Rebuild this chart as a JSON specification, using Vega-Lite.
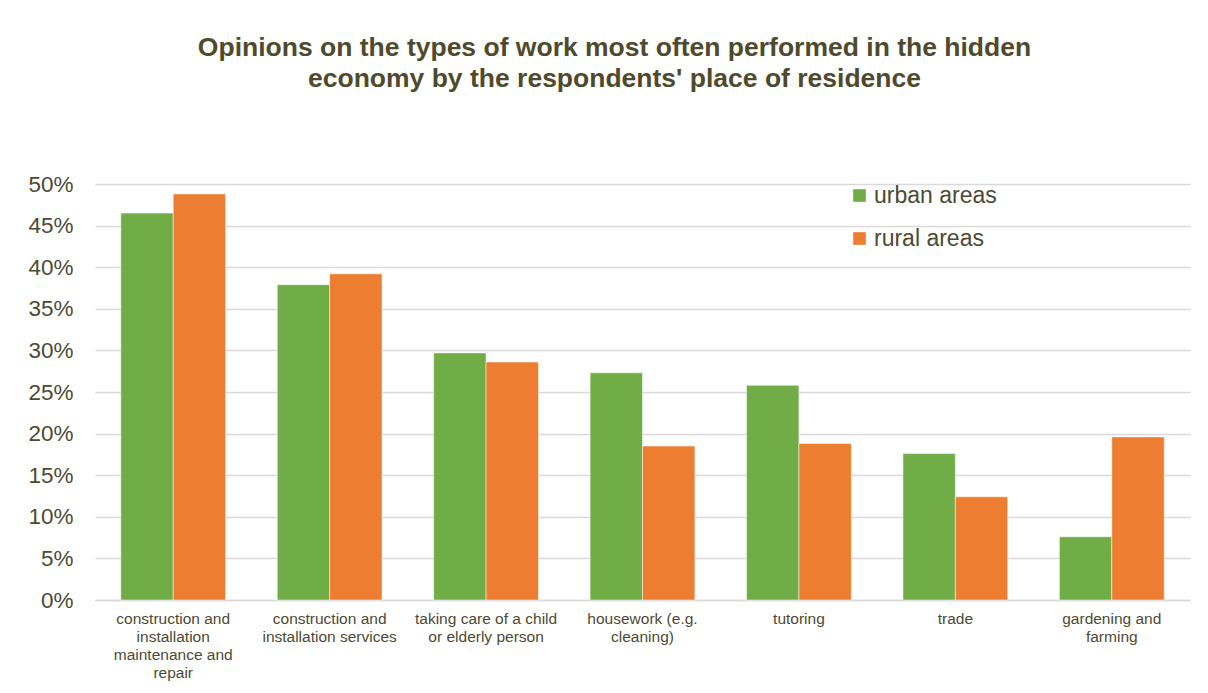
{
  "$schema": "https://vega.github.io/schema/vega-lite/v6.json",
  "width": 1095,
  "height": 416,
  "autosize": {"type": "none"},
  "padding": {"left": 95, "top": 184, "right": 18, "bottom": 93},
  "background": "white",
  "title": {
    "text": ["Opinions on the types of work most often performed in the hidden", "economy by the respondents' place of residence"],
    "font": "Liberation Sans",
    "fontSize": 26.5,
    "fontWeight": "bold",
    "color": "#4f4a2c",
    "lineHeight": 31,
    "anchor": "middle",
    "dx": -28,
    "offset": 81
  },
  "data": {
    "values": [
      {"category": "construction and installation maintenance and repair", "area": "urban areas", "value": 46.5},
      {"category": "construction and installation maintenance and repair", "area": "rural areas", "value": 48.8},
      {"category": "construction and installation services", "area": "urban areas", "value": 37.9},
      {"category": "construction and installation services", "area": "rural areas", "value": 39.2},
      {"category": "taking care of a child or elderly person", "area": "urban areas", "value": 29.7},
      {"category": "taking care of a child or elderly person", "area": "rural areas", "value": 28.6},
      {"category": "housework (e.g. cleaning)", "area": "urban areas", "value": 27.3},
      {"category": "housework (e.g. cleaning)", "area": "rural areas", "value": 18.5},
      {"category": "tutoring", "area": "urban areas", "value": 25.8},
      {"category": "tutoring", "area": "rural areas", "value": 18.8},
      {"category": "trade", "area": "urban areas", "value": 17.6},
      {"category": "trade", "area": "rural areas", "value": 12.4},
      {"category": "gardening and farming", "area": "urban areas", "value": 7.6},
      {"category": "gardening and farming", "area": "rural areas", "value": 19.6}
    ]
  },
  "mark": {"type": "bar", "stroke": "white", "strokeWidth": 0.5},
  "encoding": {
    "x": {
      "field": "category",
      "type": "nominal",
      "sort": null,
      "title": null,
      "scale": {"paddingInner": 0.33, "paddingOuter": 0.165},
      "axis": {
        "labelAngle": 0,
        "labelFont": "Liberation Sans",
        "labelFontSize": 15.5,
        "labelColor": "#4d4a33",
        "labelLineHeight": 18,
        "labelPadding": 11,
        "labelBaseline": "top",
        "labelLimit": 220,
        "ticks": false,
        "domainColor": "#d9d9d9",
        "domainWidth": 1.5,
        "labelExpr": "datum.label == 'construction and installation maintenance and repair' ? ['construction and', 'installation', 'maintenance and', 'repair'] : datum.label == 'construction and installation services' ? ['construction and', 'installation services'] : datum.label == 'taking care of a child or elderly person' ? ['taking care of a child', 'or elderly person'] : datum.label == 'housework (e.g. cleaning)' ? ['housework (e.g.', 'cleaning)'] : datum.label == 'gardening and farming' ? ['gardening and', 'farming'] : datum.label"
      }
    },
    "xOffset": {"field": "area", "type": "nominal", "sort": ["urban areas", "rural areas"], "scale": {"paddingInner": 0, "paddingOuter": 0}},
    "y": {
      "field": "value",
      "type": "quantitative",
      "title": null,
      "scale": {"domain": [0, 50], "nice": false},
      "axis": {
        "values": [0, 5, 10, 15, 20, 25, 30, 35, 40, 45, 50],
        "labelExpr": "datum.value + '%'",
        "labelFont": "Liberation Sans",
        "labelFontSize": 22.5,
        "labelColor": "#4d4a33",
        "labelPadding": 22,
        "ticks": false,
        "domain": false,
        "gridColor": "#d9d9d9",
        "gridWidth": 1.5
      }
    },
    "color": {
      "field": "area",
      "type": "nominal",
      "sort": ["urban areas", "rural areas"],
      "scale": {"domain": ["urban areas", "rural areas"], "range": ["#70ad47", "#ed7d31"]},
      "legend": {
        "title": null,
        "orient": "none",
        "legendX": 753,
        "legendY": 0,
        "symbolType": "square",
        "symbolSize": 160,
        "symbolStrokeWidth": 0,
        "symbolOpacity": 1,
        "labelFont": "Liberation Sans",
        "labelFontSize": 23,
        "labelColor": "#4d4a33",
        "labelOffset": 3,
        "rowPadding": 19
      }
    }
  },
  "config": {"view": {"stroke": null}}
}
